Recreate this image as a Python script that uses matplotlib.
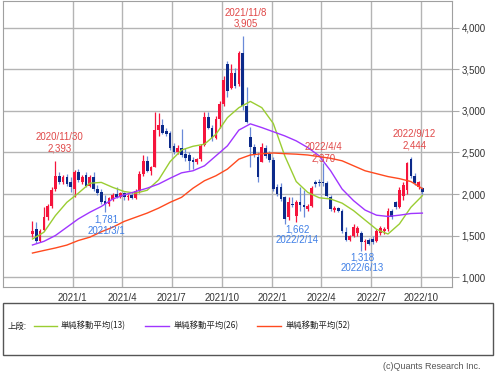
import numpy as np
import pandas as pd
import matplotlib
matplotlib.use("Agg")
import matplotlib.pyplot as plt
import matplotlib.dates as mdates
from matplotlib.ticker import StrMethodFormatter
from matplotlib.lines import Line2D
from matplotlib.patches import Rectangle

# weekly candles, first week 2020-10-19
start_week = "2020-10-19"
opens = [1520, 1580, 1440, 1570, 1720, 1850, 2060, 2220, 2150, 2210,
         2140, 2060, 2260, 2150, 2230, 2100, 2210, 2060, 2020, 1920,
         1880, 1940, 2000, 1970, 2010, 1960, 1990, 1950, 2040, 2240,
         2400, 2280, 2330, 2770, 2830, 2760, 2730, 2580, 2500, 2560,
         2480, 2470, 2410, 2390, 2420, 2590, 2930, 2800, 2680, 2900,
         3080, 3560, 3280, 3460, 3320, 3700, 3060, 2690, 2570, 2450,
         2390, 2560, 2480, 2410, 2080, 2090, 1960, 1720, 1880, 1730,
         1900, 1870, 1820, 1850, 2140, 2140, 2150, 2130, 1970, 1810,
         1830, 1800, 1540, 1450, 1500, 1530, 1530, 1420, 1450, 1460,
         1440, 1530, 1550, 1580, 1800, 1900, 1840, 1980, 2050, 2420,
         2220, 2090, 2070]
highs = [1670, 1660, 1580, 1840, 1880, 2080, 2393, 2260, 2230, 2240,
         2200, 2290, 2300, 2230, 2270, 2230, 2260, 2110, 2060, 1990,
         1960, 2010, 2080, 2030, 2030, 2000, 2020, 2060, 2280, 2470,
         2460, 2340, 2990, 2980, 2900, 2800, 2760, 2620, 2590, 2780,
         2560, 2500, 2440, 2430, 2600, 2990, 2990, 2830, 2940, 3120,
         3420, 3600, 3560, 3520, 3720, 3905, 3290, 2810, 2600, 2500,
         2620, 2590, 2520, 2440, 2120, 2130, 1980, 1960, 1960, 1930,
         2080, 2050, 1880, 2100, 2170, 2180, 2370, 2160, 1990, 1850,
         1840, 1820, 1600, 1510, 1640, 1620, 1560, 1460, 1470, 1490,
         1580, 1610, 1600, 1830, 1820, 1920, 2080, 2140, 2390, 2444,
         2250, 2160, 2090]
lows = [1480, 1410, 1420, 1560, 1690, 1830, 2040, 2120, 2120, 2100,
        2030, 1960, 2150, 2120, 2080, 2090, 2040, 1990, 1880, 1781,
        1850, 1920, 1950, 1950, 1930, 1930, 1940, 1940, 2010, 2220,
        2270, 2230, 2320, 2700, 2720, 2700, 2530, 2480, 2480, 2450,
        2400, 2290, 2300, 2360, 2400, 2580, 2780, 2640, 2660, 2800,
        3060, 3170, 3260, 3280, 3300, 3010, 2850, 2330, 2450, 2150,
        2380, 2430, 2380, 2040, 1980, 1920, 1640, 1690, 1840, 1662,
        1800, 1720, 1790, 1840, 2080, 2100, 2100, 1960, 1800, 1780,
        1780, 1530, 1430, 1430, 1480, 1500, 1318, 1330, 1380, 1400,
        1420, 1510, 1520, 1560, 1700, 1820, 1830, 1930, 2000, 2190,
        2110, 2060, 2000]
closes = [1560, 1430, 1560, 1720, 1850, 2050, 2220, 2150, 2200, 2120,
          2080, 2260, 2170, 2210, 2100, 2200, 2060, 2010, 1900, 1880,
          1950, 1990, 1970, 2010, 1960, 1980, 1950, 2040, 2240, 2400,
          2280, 2320, 2770, 2830, 2740, 2720, 2550, 2500, 2560, 2470,
          2430, 2400, 2380, 2420, 2580, 2930, 2800, 2680, 2900, 3080,
          3370, 3240, 3460, 3300, 3700, 3060, 2870, 2570, 2480, 2210,
          2570, 2460, 2410, 2060, 2000, 1940, 1700, 1900, 1870, 1900,
          1870, 1840, 1860, 2070, 2120, 2130, 2130, 1980, 1820, 1830,
          1800, 1550, 1450, 1500, 1600, 1590, 1420, 1440, 1400, 1420,
          1560, 1590, 1580, 1800, 1720, 1840, 2050, 2110, 2370, 2220,
          2130, 2140, 2020]

# moving averages read every 3 weeks
ma_step = 3
ma13 = [1458, 1540, 1740, 1900, 2010, 2130, 2140, 2080, 2030, 2010,
        2045, 2170, 2390, 2530, 2575, 2600, 2720, 2920, 3040, 3115,
        3040, 2850, 2460, 2150, 2020, 1955, 1940, 1890, 1800, 1687,
        1575, 1518, 1640, 1840, 1980]
ma26 = [1386, 1430, 1500, 1600, 1700, 1780, 1850, 1940, 1990, 2030,
        2070, 2120, 2190, 2255, 2280, 2340, 2460, 2580, 2770, 2845,
        2800, 2750, 2700, 2640, 2560, 2460, 2280, 2060, 1920, 1807,
        1745, 1730, 1745, 1765, 1770]
ma52 = [1289, 1320, 1350, 1385, 1440, 1480, 1545, 1600, 1670, 1720,
        1770, 1830, 1900, 1960, 2070, 2160, 2220, 2300, 2420, 2470,
        2485, 2494, 2486, 2480, 2470, 2450, 2430, 2400, 2340, 2280,
        2245, 2210, 2185, 2150, 2065]

tick_dates = ["2021-01-01", "2021-04-01", "2021-07-01", "2021-10-01",
              "2022-01-01", "2022-04-01", "2022-07-01", "2022-10-01"]
tick_labels = ["2021/1", "2021/4", "2021/7", "2021/10",
               "2022/1", "2022/4", "2022/7", "2022/10"]

# (week index, is_high, date label, value label, text offset)
marks = [
    (6, True, "2020/11/30", "2,393", (3, 6)),
    (19, False, "2021/3/1", "1,781", (1, -2)),
    (55, True, "2021/11/8", "3,905", (2, 5)),
    (69, False, "2022/2/14", "1,662", (1, -1.5)),
    (76, True, "2022/4/4", "2,370", (0.5, 0)),
    (86, False, "2022/6/13", "1,318", (1, -1)),
    (99, True, "2022/9/12", "2,444", (2.5, 5)),
]

UP = "#f5143c"
DOWN = "#0c2a8a"
DOWN_WICK = "#6a8ad8"
RED_TXT = "#e04848"
BLUE_TXT = "#3f7fe6"

plt.rcParams["font.family"] = ["Liberation Sans", "DejaVu Sans"]

dates = pd.date_range(start_week, periods=len(opens), freq="7D")
x = mdates.date2num(dates)
o = np.array(opens, float)
h = np.array(highs, float)
l = np.array(lows, float)
c = np.array(closes, float)
up = c >= o

fig = plt.figure(figsize=(4.96, 3.71), dpi=100)
ax = fig.add_axes([0.006, 0.2264, 0.905, 0.771])

ax.vlines(x, l, h, colors=np.where(up, UP, DOWN_WICK), linewidth=0.9, zorder=2)
body_h = np.maximum(np.abs(c - o), 10)
ax.bar(x, body_h, bottom=np.minimum(o, c), width=5.0,
       color=np.where(up, UP, DOWN), linewidth=0, zorder=3)

ma_x = x[::ma_step]
ax.plot(ma_x, ma13, color="#9acd32", lw=1.0, zorder=4)
ax.plot(ma_x, ma26, color="#a035ff", lw=1.0, zorder=4)
ax.plot(ma_x, ma52, color="#ff4a1f", lw=1.0, zorder=4)

for i, is_high, dlab, vlab, off in marks:
    if is_high:
        txt, y, va, col = f"{dlab}\n{vlab}", h[i], "bottom", RED_TXT
    else:
        txt, y, va, col = f"{vlab}\n{dlab}", l[i], "top", BLUE_TXT
    ax.annotate(txt, (x[i], y), xytext=off, textcoords="offset points",
                ha="center", va=va, color=col, fontsize=7,
                linespacing=1.15, zorder=6)

ax.set_xlim(mdates.date2num(pd.Timestamp("2020-08-26")),
            mdates.date2num(pd.Timestamp("2022-11-26")))
ax.set_ylim(880, 4325)
ax.set_yticks([1000, 1500, 2000, 2500, 3000, 3500, 4000])
ax.yaxis.set_major_formatter(StrMethodFormatter("{x:,.0f}"))
ax.yaxis.tick_right()
ax.set_xticks(mdates.date2num(pd.to_datetime(tick_dates)))
ax.set_xticklabels(tick_labels)
ax.tick_params(axis="y", length=5, color="#aaaaaa", labelsize=7,
               labelcolor="#333333", pad=2)
ax.tick_params(axis="x", length=0, labelsize=7, labelcolor="#333333", pad=4)
ax.grid(True, color="#b4b4b4", lw=1.0, zorder=0)
ax.set_axisbelow(True)
for s in ax.spines.values():
    s.set_color("#a0a0a0")

# legend box
fig.add_artist(Rectangle((0.006, 0.0431), 0.988, 0.140, transform=fig.transFigure,
                         fill=False, edgecolor="#555555", lw=1.0))
cjk = ["Noto Sans CJK JP", "DejaVu Sans"]
ly = 0.1213
fig.text(0.016, ly, "上段:", family=cjk, fontsize=6, va="center", color="#222222")
for x0, x1, tx, col, lab in [
        (0.0685, 0.115, 0.123, "#9acd32", "単純移動平均(13)"),
        (0.292, 0.341, 0.349, "#a035ff", "単純移動平均(26)"),
        (0.518, 0.567, 0.575, "#ff4a1f", "単純移動平均(52)")]:
    fig.add_artist(Line2D([x0, x1], [ly, ly], transform=fig.transFigure, color=col, lw=1.0))
    fig.text(tx, ly, lab, family=cjk, fontsize=6, va="center", color="#222222")

fig.text(0.968, 0.0125, "(c)Quants Research Inc.", ha="right", va="center",
         fontsize=6.5, color="#555555")

fig.savefig("out.png", dpi=100)
